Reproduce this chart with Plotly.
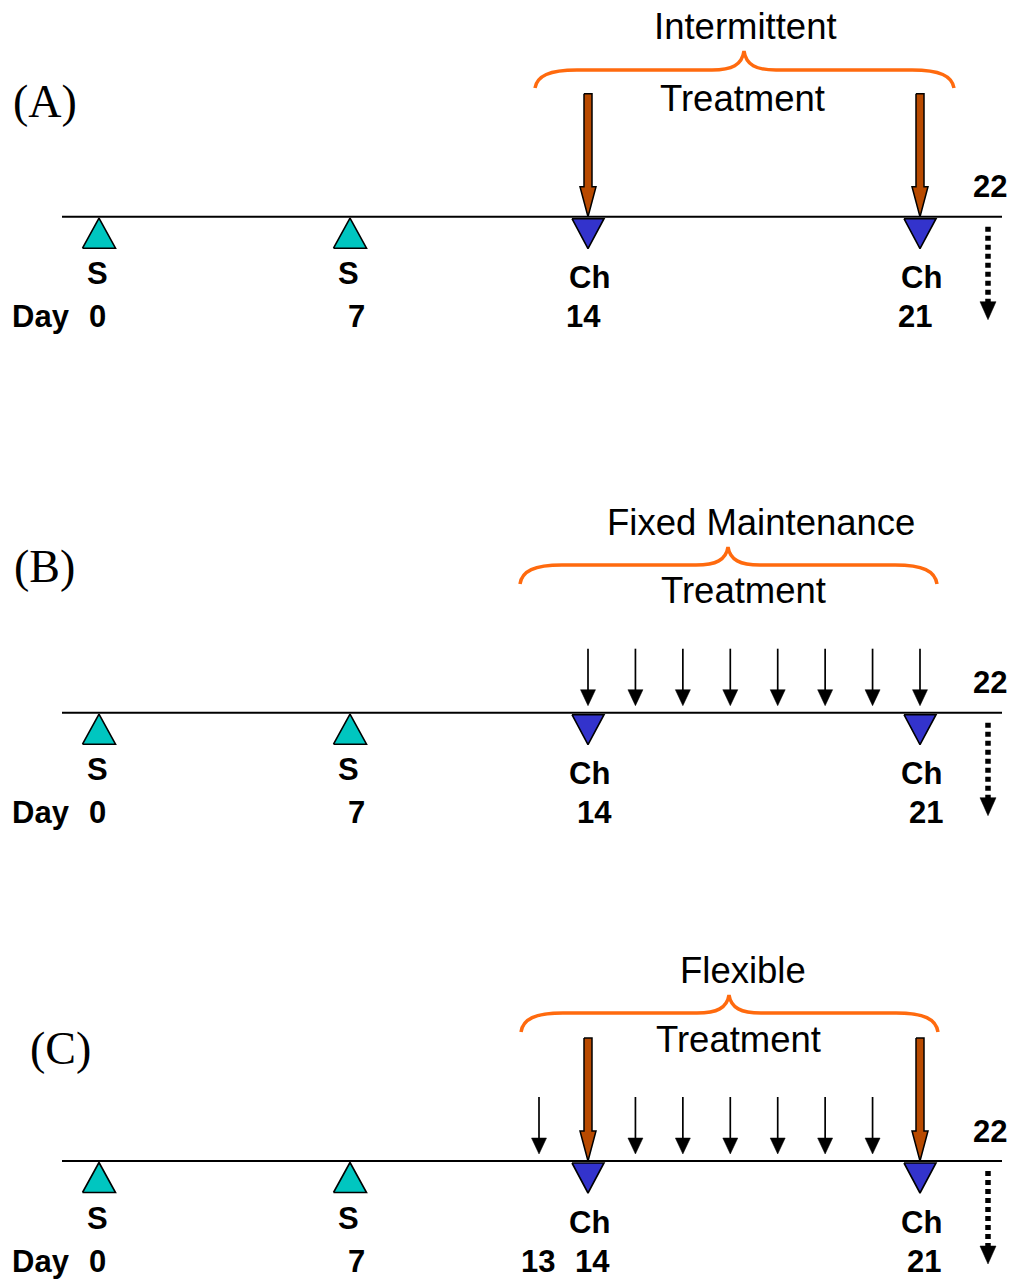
import numpy as np
import plotly.graph_objects as go

# ---------------- data ----------------
panel_labels = ["(A)", "(B)", "(C)"]
regimen_names = ["Intermittent", "Fixed Maintenance", "Flexible"]
treatment_word = "Treatment"
sensitization_days = [0, 7]
sensitization_label = "S"
challenge_days = [14, 21]
challenge_label = "Ch"
endpoint_day = 22
# large (intermittent) treatment arrows per panel
intermittent_days = [[14, 21], [], [14, 21]]
# small (daily maintenance) treatment arrows per panel
maintenance_days = [[], [14, 15, 16, 17, 18, 19, 20, 21], [13, 15, 16, 17, 18, 19, 20]]
# day tick labels per panel
day_ticks = [[0, 7, 14, 21], [0, 7, 14, 21], [0, 7, 13, 14, 21]]
day_word = "Day"

# ---------------- layout constants ----------------
W, H = 1014, 1280
DAY_ANCHORS = [0, 7, 13, 14, 21, 22]        # timeline is not drawn to scale
X_ANCHORS = [99, 350, 539, 588, 920, 988]
TIMELINE_Y = [216.7, 712.7, 1161.0]
LINE_X0, LINE_X1 = 62, 1002
BRACES = [
    dict(L=535, R=954, C=744, yE=88, yF=70, yP=51, title=(745, 26), treat=(742, 98)),
    dict(L=520, R=937, C=728, yE=584, yF=565, yP=547, title=(761, 522), treat=(743, 590)),
    dict(L=521, R=938, C=729, yE=1032, yF=1013, yP=995, title=(743, 970), treat=(738, 1039)),
]
PANEL_LABEL_POS = [(45, 101), (44, 566), (60, 1048)]
NUM_SHIFT = [-5, 6, 4]   # small per-panel nudges of day numbers >= 13

TEAL = "#00C6C0"
BLUE = "#3333CC"
BROWN = "#B84A00"
ORANGE = "#FF6A0E"
SANS = "Liberation Sans, Arial, sans-serif"
SERIF = "Liberation Serif, Times New Roman, serif"
LBL = 31


def dx(d):
    return float(np.interp(d, DAY_ANCHORS, X_ANCHORS))


fig = go.Figure()
shapes = []
annotations = []


def polygon(xs, ys, fill, line_color="black", lw=1.6):
    fig.add_trace(go.Scatter(
        x=list(xs) + [xs[0]], y=list(ys) + [ys[0]], mode="lines", fill="toself",
        fillcolor=fill, line=dict(color=line_color, width=lw),
        hoverinfo="skip", showlegend=False))


def text(x, y, s, size, family=SANS, bold=False, color="black"):
    annotations.append(dict(
        x=x, y=y, xref="x", yref="y", text=f"<b>{s}</b>" if bold else s,
        showarrow=False, xanchor="center", yanchor="middle",
        font=dict(family=family, size=size, color=color)))


for p in range(3):
    y0 = TIMELINE_Y[p]
    # timeline
    shapes.append(dict(type="line", x0=LINE_X0, x1=LINE_X1, y0=y0, y1=y0,
                       xref="x", yref="y", line=dict(color="black", width=2)))

    # sensitization triangles (up)
    for d in sensitization_days:
        x = dx(d)
        polygon([x - 16.5, x + 16.5, x], [y0 + 31.5, y0 + 31.5, y0 + 1.5], TEAL)
        text(x - 2, y0 + 57, sensitization_label, LBL, bold=True)

    # challenge triangles (down)
    for d in challenge_days:
        x = dx(d)
        polygon([x - 16, x + 16, x], [y0 + 2, y0 + 2, y0 + 32], BLUE)
        text(x + 1, y0 + 61, challenge_label, LBL, bold=True)

    # day labels
    text(40.5, y0 + 100, day_word, LBL, bold=True)
    for d in day_ticks[p]:
        if d == 0:
            xs = dx(d) - 2
        elif d == 7:
            xs = dx(d) + 6
        elif d == 13:
            xs = dx(d) - 1
        else:
            xs = dx(d) + NUM_SHIFT[p]
        text(xs, y0 + 100, str(d), LBL, bold=True)

    # endpoint (day 22) label and dotted arrow
    xe = dx(endpoint_day)
    text(xe + 2, y0 - 30, str(endpoint_day), LBL, bold=True)
    fig.add_trace(go.Scatter(x=[xe, xe], y=[y0 + 10, y0 + 86], mode="lines",
                             line=dict(color="black", width=5.5, dash="5px,4px"),
                             hoverinfo="skip", showlegend=False))
    polygon([xe - 8, xe + 8, xe], [y0 + 85, y0 + 85, y0 + 103], "black", lw=0.5)

    # small maintenance arrows
    for d in maintenance_days[p]:
        x = dx(d)
        tip = y0 - 7
        fig.add_trace(go.Scatter(x=[x, x], y=[y0 - 64, tip - 10], mode="lines",
                                 line=dict(color="black", width=1.7),
                                 hoverinfo="skip", showlegend=False))
        polygon([x - 7.5, x + 7.5, x], [tip - 16, tip - 16, tip], "black", lw=0.5)

    # large intermittent arrows
    for d in intermittent_days[p]:
        x = dx(d)
        top, hs, tip = y0 - 123, y0 - 30, y0
        polygon([x - 4, x + 4, x + 4, x + 8, x, x - 8, x - 4],
                [top, top, hs, hs, tip, hs, hs], BROWN, lw=1.5)

    # brace
    b = BRACES[p]
    L, R, C, yE, yF, yP = b["L"], b["R"], b["C"], b["yE"], b["yF"], b["yP"]
    path = (f"M {L},{yE} C {L+2},{yF+6} {L+14},{yF} {L+42},{yF} "
            f"L {C-32},{yF} C {C-12},{yF} {C-2},{yF-5} {C},{yP} "
            f"C {C+2},{yF-5} {C+12},{yF} {C+32},{yF} "
            f"L {R-42},{yF} C {R-14},{yF} {R-2},{yF+6} {R},{yE}")
    shapes.append(dict(type="path", path=path, xref="x", yref="y",
                       line=dict(color=ORANGE, width=3.5)))
    text(b["title"][0], b["title"][1], regimen_names[p], 36.5)
    text(b["treat"][0], b["treat"][1], treatment_word, 36.5)

    # panel label
    text(PANEL_LABEL_POS[p][0], PANEL_LABEL_POS[p][1], panel_labels[p], 46, family=SERIF)

fig.update_layout(
    width=W, height=H, margin=dict(l=0, r=0, t=0, b=0),
    paper_bgcolor="white", plot_bgcolor="white",
    xaxis=dict(range=[0, W], visible=False, fixedrange=True),
    yaxis=dict(range=[H, 0], visible=False, fixedrange=True),
    shapes=shapes, annotations=annotations, showlegend=False,
)

fig.write_html("out.html", post_script="document.body.style.margin='0';",
               config={"displayModeBar": False})
